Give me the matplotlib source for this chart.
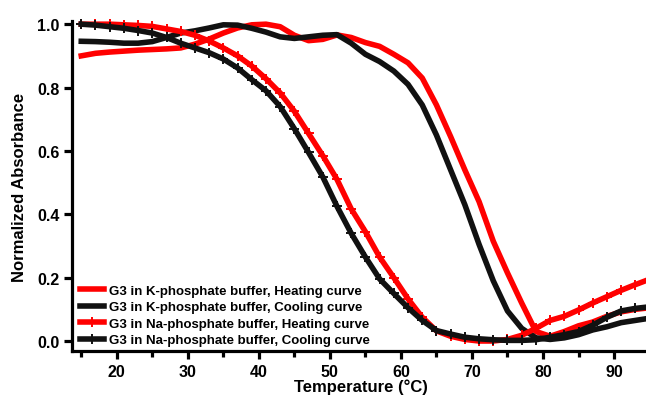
import matplotlib
matplotlib.use("Agg")

import matplotlib.pyplot as plt
from matplotlib.ticker import MultipleLocator

plt.rcParams["font.family"] = ["Liberation Sans", "DejaVu Sans"]
plt.rcParams["font.weight"] = "bold"

temps = list(range(15, 96, 2))

k_heating = [0.900, 0.908, 0.912, 0.915, 0.918, 0.920, 0.922, 0.925, 0.937, 0.953,
             0.972, 0.988, 0.998, 1.000, 0.992, 0.965, 0.948, 0.952, 0.966, 0.958,
             0.942, 0.930, 0.905, 0.878, 0.830, 0.745, 0.645, 0.540, 0.440, 0.315,
             0.215, 0.120, 0.030, 0.015, 0.030, 0.048, 0.060, 0.078, 0.092, 0.100,
             0.105]
k_cooling = [0.946, 0.945, 0.943, 0.940, 0.940, 0.945, 0.958, 0.972, 0.979, 0.988,
             0.998, 0.997, 0.987, 0.975, 0.960, 0.955, 0.960, 0.965, 0.967, 0.940,
             0.905, 0.882, 0.852, 0.810, 0.745, 0.650, 0.540, 0.430, 0.305, 0.190,
             0.095, 0.040, 0.010, 0.005, 0.010, 0.020, 0.035, 0.045, 0.058, 0.065,
             0.072]
na_heating = [1.000, 1.000, 1.000, 0.998, 0.996, 0.993, 0.985, 0.977, 0.965, 0.947,
              0.925, 0.900, 0.868, 0.828, 0.783, 0.725, 0.655, 0.585, 0.510, 0.417,
              0.345, 0.265, 0.200, 0.133, 0.075, 0.032, 0.015, 0.005, 0.000, 0.000,
              0.005, 0.018, 0.040, 0.065, 0.078, 0.098, 0.120, 0.140, 0.160, 0.178,
              0.195]
na_cooling = [1.000, 0.997, 0.992, 0.987, 0.980, 0.972, 0.958, 0.940, 0.925, 0.910,
              0.890, 0.862, 0.825, 0.790, 0.740, 0.670, 0.595, 0.518, 0.425, 0.340,
              0.265, 0.196, 0.150, 0.105, 0.065, 0.033, 0.022, 0.012, 0.007, 0.004,
              0.002, 0.002, 0.004, 0.012, 0.020, 0.030, 0.050, 0.075, 0.095, 0.103,
              0.108]

series = [
    ("G3 in K-phosphate buffer, Heating curve", k_heating, "#ff0000", None),
    ("G3 in K-phosphate buffer, Cooling curve", k_cooling, "#111111", None),
    ("G3 in Na-phosphate buffer, Heating curve", na_heating, "#ff0000", "+"),
    ("G3 in Na-phosphate buffer, Cooling curve", na_cooling, "#111111", "+"),
]

fig = plt.figure(figsize=(6.46, 4.06), dpi=100)
ax = fig.add_axes([0.1115, 0.133, 0.894, 0.8128])

for label, vals, color, marker in series:
    ax.plot(temps, vals, color=color, linewidth=4.0, marker=marker,
            markersize=6.5, markeredgewidth=1.4, label=label, clip_on=False,
            solid_joinstyle="round")

ax.set_xlim(13.7, 95)
ax.set_ylim(-0.0315, 1.01)
ax.xaxis.set_major_locator(MultipleLocator(10))
ax.xaxis.set_minor_locator(MultipleLocator(5))
ax.yaxis.set_major_locator(MultipleLocator(0.2))
ax.yaxis.set_major_formatter(lambda v, p: f"{v:.1f}")

for side in ("top", "right"):
    ax.spines[side].set_visible(False)
for side in ("left", "bottom"):
    ax.spines[side].set_linewidth(2.3)

ax.tick_params(which="major", length=6, width=2.3, labelsize=11.5, pad=3)
ax.tick_params(which="minor", length=4, width=2.3)
for lab in ax.get_xticklabels() + ax.get_yticklabels():
    lab.set_fontweight("bold")

ax.set_xlabel("Temperature (°C)", fontsize=12, fontweight="bold", labelpad=0)
ax.set_ylabel("Normalized Absorbance", fontsize=12, fontweight="bold", labelpad=7)

ax.legend(loc="lower left", bbox_to_anchor=(0.0, -0.01), frameon=False,
          handlelength=1.8, handletextpad=0.4, labelspacing=0.32,
          borderaxespad=0.2, prop={"weight": "bold", "size": 9.5})

fig.savefig("out.png", dpi=100)
plt.close(fig)
